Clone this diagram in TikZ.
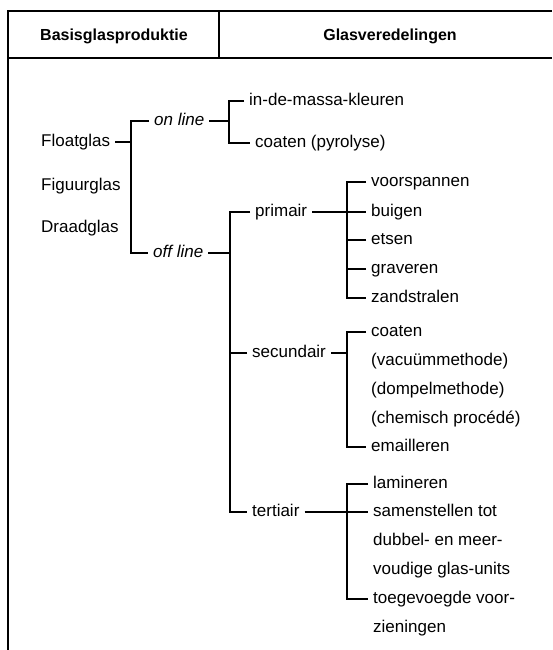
\documentclass[tikz,border=0pt]{standalone}
\usepackage{fontspec}
\setmainfont{Liberation Sans}
\begin{document}
\begin{tikzpicture}[x=1pt,y=-1pt,
  rule/.style={line width=1.2pt, black},
  branch/.style={line width=1.4pt, black},
  txt/.style={anchor=west, inner xsep=5pt, inner ysep=0pt,
              text height=9pt, text depth=0pt,
              font=\fontsize{17}{20}\selectfont},
  head/.style={inner sep=0pt, font=\fontsize{16}{19}\selectfont\bfseries}]
  \useasboundingbox (0,0) rectangle (552,650);

  % frame and header
  \coordinate (tl) at (8,11);
  \coordinate (tr) at (552,11);
  \coordinate (hl) at (8,58);
  \coordinate (hr) at (552,58);
  \coordinate (bl) at (8,650);
  \coordinate (dt) at (219,11);
  \coordinate (db) at (219,58);
  \draw[rule] (tr) -- (tl) -- (bl);
  \draw[rule] (hl) -- (hr);
  \draw[rule] (dt) -- (db);
  \node[head] (h1) at (114,36) {Basisglasproduktie};
  \node[head] (h2) at (390,36) {Glasveredelingen};

  % base glass types
  \node[txt] (float) at (36,142) {Floatglas};
  \node[txt] (figuur) at (36,186) {Figuurglas};
  \node[txt] (draad) at (36,228) {Draadglas};

  % on line / off line
  \node[txt] (online) at (149,121) {\itshape on line};
  \node[txt] (offline) at (148,253) {\itshape off line};
  \coordinate (jA) at (131,142);
  \draw[branch] (float.east) -- (jA);
  \draw[branch] (online.west) -| (jA) |- (offline.west);

  % on line finishes
  \node[txt] (massa) at (244,101) {in-de-massa-kleuren};
  \node[txt] (pyro) at (250,143) {coaten (pyrolyse)};
  \coordinate (jB) at (229,121);
  \draw[branch] (online.east) -- (jB);
  \draw[branch] (massa.west) -| (jB) |- (pyro.west);

  % off line: primair / secundair / tertiair
  \node[txt] (prim) at (250,212) {primair};
  \node[txt] (sec) at (247,353) {secundair};
  \node[txt] (tert) at (247,512) {tertiair};
  \coordinate (jC) at (230,253);
  \draw[branch] (offline.east) -- (jC);
  \draw[branch] (prim.west) -| (jC) |- (tert.west);
  \draw[branch] (sec.west) -- (sec.west -| jC);

  % primair
  \node[txt] (p1) at (366,182) {voorspannen};
  \node[txt] (p2) at (366,212) {buigen};
  \node[txt] (p3) at (366,240) {etsen};
  \node[txt] (p4) at (366,269) {graveren};
  \node[txt] (p5) at (366,298) {zandstralen};
  \coordinate (jP) at (347,212);
  \draw[branch] (prim.east) -- (p2.west);
  \draw[branch] (p1.west) -| (jP) |- (p5.west);
  \draw[branch] (p3.west) -- (p3.west -| jP);
  \draw[branch] (p4.west) -- (p4.west -| jP);

  % secundair
  \node[txt] (s1) at (366,332) {coaten};
  \node[txt] (s2) at (366,361) {(vacuümmethode)};
  \node[txt] (s3) at (366,390) {(dompelmethode)};
  \node[txt] (s4) at (366,419) {(chemisch procédé)};
  \node[txt] (s5) at (366,447) {emailleren};
  \coordinate (jS) at (347,353);
  \draw[branch] (sec.east) -- (jS);
  \draw[branch] (s1.west) -| (jS) |- (s5.west);

  % tertiair
  \node[txt] (t1) at (368,484) {lamineren};
  \node[txt] (t2) at (368,512) {samenstellen tot};
  \node[txt] (t3) at (368,541) {dubbel- en meer-};
  \node[txt] (t4) at (368,570) {voudige glas-units};
  \node[txt] (t5) at (368,599) {toegevoegde voor-};
  \node[txt] (t6) at (368,628) {zieningen};
  \coordinate (jT) at (347,512);
  \draw[branch] (tert.east) -- (t2.west);
  \draw[branch] (t1.west) -| (jT) |- (t5.west);
\end{tikzpicture}
\end{document}
